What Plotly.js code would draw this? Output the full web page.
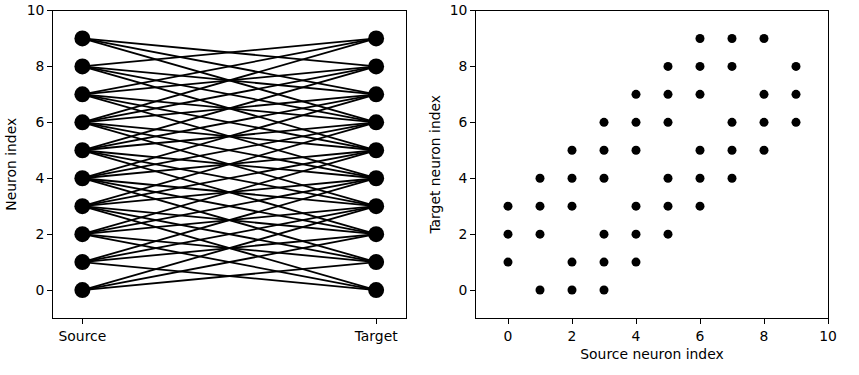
<!DOCTYPE html>
<html>
<head>
<meta charset="utf-8">
<script src="https://cdn.plot.ly/plotly-3.0.1.min.js"></script>
<style>html,body{margin:0;padding:0;background:#fff;}#chart{width:859px;height:375px;}</style>
</head>
<body>
<div id="chart"></div>
<script>
// Neuron indices
const neurons = [0, 1, 2, 3, 4, 5, 6, 7, 8, 9];
// Connections (source -> target)
const sourceIdx = [0,0,0, 1,1,1,1, 2,2,2,2,2, 3,3,3,3,3,3, 4,4,4,4,4,4, 5,5,5,5,5,5, 6,6,6,6,6,6, 7,7,7,7,7, 8,8,8,8, 9,9,9];
const targetIdx = [1,2,3, 0,2,3,4, 0,1,3,4,5, 0,1,2,4,5,6, 1,2,3,5,6,7, 2,3,4,6,7,8, 3,4,5,7,8,9, 4,5,6,8,9, 5,6,7,9, 6,7,8];
const sideLabels = ['Source', 'Target'];
const sidePos = [0, 1];

const lx = [], ly = [];
for (let k = 0; k < sourceIdx.length; k++) {
  lx.push(sidePos[0], sidePos[1], null);
  ly.push(sourceIdx[k], targetIdx[k], null);
}

const traces = [
  {x: lx, y: ly, type: 'scatter', mode: 'lines', line: {color: 'black', width: 1.8}, xaxis: 'x', yaxis: 'y', hoverinfo: 'skip'},
  {x: neurons.map(() => sidePos[0]), y: neurons, type: 'scatter', mode: 'markers', marker: {color: 'black', size: 16}, xaxis: 'x', yaxis: 'y'},
  {x: neurons.map(() => sidePos[1]), y: neurons, type: 'scatter', mode: 'markers', marker: {color: 'black', size: 16}, xaxis: 'x', yaxis: 'y'},
  {x: sourceIdx, y: targetIdx, type: 'scatter', mode: 'markers', marker: {color: 'black', size: 9}, xaxis: 'x2', yaxis: 'y2'}
];

const font = {family: 'DejaVu Sans', size: 13.9, color: 'black'};
const axBase = {showgrid: false, zeroline: false, showline: true, linecolor: 'black', linewidth: 1, mirror: true,
  ticks: 'outside', ticklen: 4.9, tickwidth: 1, tickcolor: 'black', tickfont: font, automargin: false};

const layout = {
  width: 859, height: 375, margin: {l: 0, r: 0, t: 0, b: 0},
  paper_bgcolor: 'white', plot_bgcolor: 'white', showlegend: false, font: font,
  xaxis: Object.assign({}, axBase, {domain: [53/859, 405.5/859], range: [-0.1, 1.1], tickvals: sidePos, ticktext: sideLabels}),
  yaxis: Object.assign({}, axBase, {domain: [57/375, 364.5/375], range: [-1, 10], tickvals: [0,2,4,6,8,10],
    title: {text: 'Neuron index', font: font, standoff: 6}}),
  xaxis2: Object.assign({}, axBase, {domain: [476/859, 828/859], range: [-1, 10], tickvals: [0,2,4,6,8,10], anchor: 'y2',
    title: {text: 'Source neuron index', font: font, standoff: 6}}),
  yaxis2: Object.assign({}, axBase, {domain: [57/375, 364.5/375], range: [-1, 10], tickvals: [0,2,4,6,8,10], anchor: 'x2',
    title: {text: 'Target neuron index', font: font, standoff: 5}})
};

Plotly.newPlot('chart', traces, layout, {displayModeBar: false, staticPlot: true});
</script>
</body>
</html>
